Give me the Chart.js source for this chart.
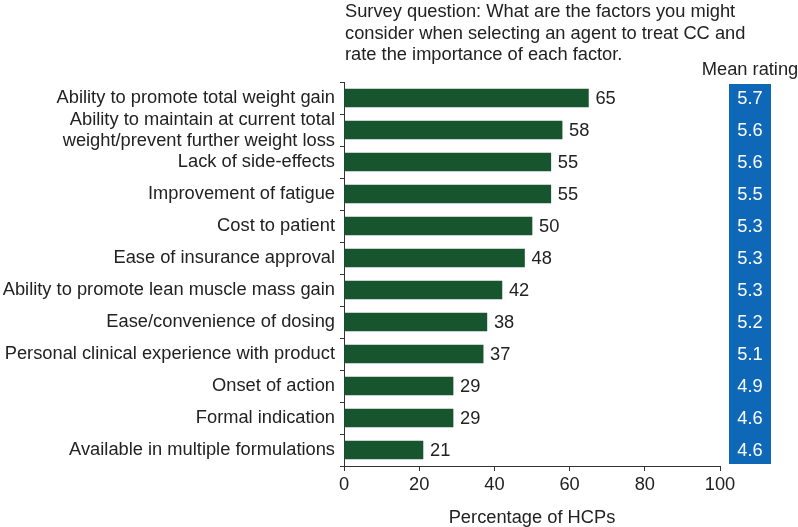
<!DOCTYPE html>
<html>
<head>
<meta charset="utf-8">
<script src="https://cdn.jsdelivr.net/npm/chart.js@4/dist/chart.umd.min.js"></script>
<style>
  html, body { margin: 0; padding: 0; background: #fff; }
  #wrap { width: 798px; height: 527px; }
</style>
</head>
<body>
<div id="wrap"><canvas id="c" width="798" height="527"></canvas></div>
<script>
const categories = [
  "Ability to promote total weight gain",
  ["Ability to maintain at current total", "weight/prevent further weight loss"],
  "Lack of side-effects",
  "Improvement of fatigue",
  "Cost to patient",
  "Ease of insurance approval",
  "Ability to promote lean muscle mass gain",
  "Ease/convenience of dosing",
  "Personal clinical experience with product",
  "Onset of action",
  "Formal indication",
  "Available in multiple formulations"
];
const percentHCPs = [65, 58, 55, 55, 50, 48, 42, 38, 37, 29, 29, 21];
const meanRatings = ["5.7", "5.6", "5.6", "5.5", "5.3", "5.3", "5.3", "5.2", "5.1", "4.9", "4.6", "4.6"];
const xTicks = [0, 20, 40, 60, 80, 100];
const titleLines = [
  "Survey question: What are the factors you might",
  "consider when selecting an agent to treat CC and",
  "rate the importance of each factor."
];
const ratingHeader = "Mean rating";
const xAxisTitle = "Percentage of HCPs";

const FONT = "'Liberation Sans', Arial, Helvetica, sans-serif";
const FS = 18.3;
const TEXT = "#222222";
const GREEN = "#17552e";
const BLUE = "#0f68b7";
const AXIS = "#333333";

const extras = {
  id: "extras",
  afterDatasetsDraw(chart) {
    const ctx = chart.ctx;
    const y = chart.scales.y;
    const area = chart.chartArea;
    ctx.save();
    ctx.fillStyle = TEXT;
    ctx.font = FS + "px " + FONT;
    ctx.textAlign = "left";
    ctx.textBaseline = "middle";
    titleLines.forEach((t, i) => ctx.fillText(t, area.left + 1, 12 + i * 21.5));
    const meta = chart.getDatasetMeta(0);
    meta.data.forEach((bar, i) => {
      ctx.fillStyle = TEXT;
      ctx.textAlign = "left";
      ctx.fillText(String(percentHCPs[i]), bar.x + 7, bar.y + 1);
    });
    const boxL = 729, boxR = 771;
    const boxTop = area.top + 2, boxBot = area.bottom - 2;
    ctx.fillStyle = BLUE;
    ctx.fillRect(boxL, boxTop, boxR - boxL, boxBot - boxTop);
    ctx.fillStyle = "#ffffff";
    ctx.textAlign = "center";
    meanRatings.forEach((r, i) => {
      ctx.fillText(r, (boxL + boxR) / 2, y.getPixelForValue(i) + 1);
    });
    ctx.fillStyle = TEXT;
    ctx.fillText(ratingHeader, (boxL + boxR) / 2, 70);
    ctx.restore();
  }
};

new Chart(document.getElementById("c"), {
  type: "bar",
  data: {
    labels: categories,
    datasets: [{
      data: percentHCPs,
      backgroundColor: GREEN,
      borderWidth: 0,
      barThickness: 18
    }]
  },
  options: {
    indexAxis: "y",
    responsive: false,
    animation: false,
    devicePixelRatio: 1,
    layout: { padding: { top: 82, right: 78, bottom: 0, left: 0 } },
    plugins: {
      legend: { display: false },
      tooltip: { enabled: false }
    },
    scales: {
      x: {
        type: "linear",
        min: 0, max: 100,
        afterBuildTicks(scale) { scale.ticks = xTicks.map(v => ({ value: v })); },
        afterFit(scale) { scale.height = 61; },
        grid: { drawOnChartArea: false, drawTicks: true, tickLength: 5, color: AXIS, tickColor: AXIS },
        border: { display: true, color: AXIS, width: 1 },
        ticks: { color: TEXT, font: { family: FONT, size: FS }, padding: 3, maxRotation: 0 },
        title: { display: true, text: xAxisTitle, color: TEXT, font: { family: FONT, size: FS, lineHeight: 1.0 }, padding: { top: 4, bottom: 0 } }
      },
      y: {
        afterFit(scale) { scale.width = 344; },
        grid: { drawOnChartArea: false, drawTicks: true, tickLength: 4, offset: true, color: AXIS, tickColor: AXIS },
        border: { display: true, color: AXIS, width: 1 },
        ticks: { color: TEXT, font: { family: FONT, size: FS, lineHeight: 1.15 }, padding: 5, autoSkip: false }
      }
    }
  },
  plugins: [extras]
});
</script>
</body>
</html>
